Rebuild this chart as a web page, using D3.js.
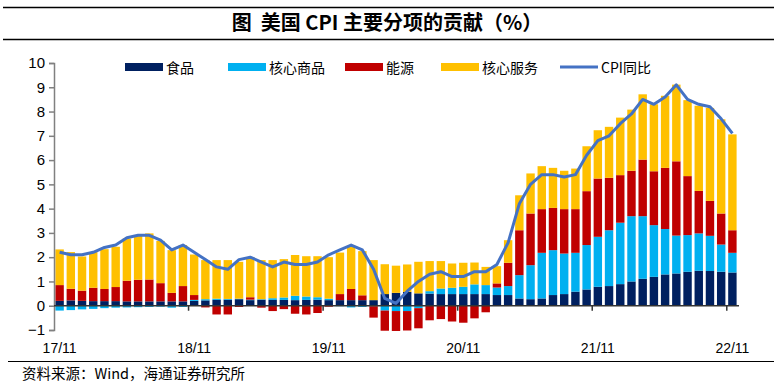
<!DOCTYPE html>
<html><head><meta charset="utf-8">
<script src="https://cdn.jsdelivr.net/npm/d3@7"></script>
<style>body{margin:0;background:#fff} svg{display:block}</style>
</head><body><svg id="c" width="779" height="389"></svg>
<script>
const months = ["17/11","17/12",
"18/01","18/02","18/03","18/04","18/05","18/06","18/07","18/08","18/09","18/10","18/11","18/12",
"19/01","19/02","19/03","19/04","19/05","19/06","19/07","19/08","19/09","19/10","19/11","19/12",
"20/01","20/02","20/03","20/04","20/05","20/06","20/07","20/08","20/09","20/10","20/11","20/12",
"21/01","21/02","21/03","21/04","21/05","21/06","21/07","21/08","21/09","21/10","21/11","21/12",
"22/01","22/02","22/03","22/04","22/05","22/06","22/07","22/08","22/09","22/10","22/11"];
const xLabels = ["17/11","18/11","19/11","20/11","21/11","22/11"];
const yTicks = [-1,0,1,2,3,4,5,6,7,8,9,10];
const seriesNames = ["食品","核心商品","能源","核心服务"];
const lineName = "CPI同比";
const food = [0.2,0.22,0.2,0.19,0.19,0.19,0.18,0.18,0.18,0.18,0.18,0.18,
0.2,0.22,0.24,0.25,0.27,0.23,0.25,0.24,0.24,0.23,0.24,0.25,
0.23,0.23,0.23,0.23,0.23,0.48,0.53,0.57,0.51,0.5,0.48,0.48,
0.48,0.48,0.48,0.44,0.44,0.3,0.27,0.3,0.44,0.48,0.58,0.67,
0.78,0.81,0.89,1.0,1.11,1.19,1.29,1.33,1.4,1.44,1.43,1.4,1.37];
const coreGoods = [-0.2,-0.18,-0.15,-0.13,-0.1,-0.08,-0.07,-0.06,-0.05,-0.04,-0.08,-0.05,
0.04,0.05,0.05,0.03,0.02,0.02,0.02,0.07,0.1,0.18,0.14,0.1,
0.06,-0.02,-0.07,-0.05,-0.02,-0.2,-0.22,-0.22,-0.1,0.1,0.23,0.26,
0.3,0.4,0.37,0.31,0.37,0.96,1.4,1.88,1.85,1.67,1.6,1.83,
2.06,2.3,2.53,2.69,2.58,2.13,1.87,1.56,1.51,1.54,1.45,1.12,0.81];
const energy = [0.65,0.48,0.42,0.55,0.5,0.58,0.85,0.89,0.9,0.75,0.35,0.63,
0.2,-0.07,-0.36,-0.36,-0.05,0.1,-0.08,-0.22,-0.14,-0.33,-0.36,-0.3,
-0.04,0.25,0.46,0.2,-0.47,-0.83,-0.82,-0.8,-0.83,-0.6,-0.55,-0.65,
-0.7,-0.52,-0.27,0.17,0.96,1.85,2.13,1.8,1.74,1.83,1.8,2.22,
2.4,2.16,1.96,1.87,2.33,2.22,2.52,3.06,2.43,1.75,1.44,1.28,0.93];
const coreServices = [1.47,1.51,1.41,1.47,1.64,1.66,1.74,1.83,1.9,1.74,1.76,1.69,
1.67,1.61,1.59,1.6,1.52,1.65,1.61,1.57,1.58,1.68,1.66,1.69,
1.71,1.71,1.78,1.82,1.65,1.23,1.12,1.13,1.3,1.24,1.13,1.0,
0.99,0.9,0.75,0.71,0.93,1.44,1.65,1.77,1.65,1.58,1.67,1.85,
1.99,2.1,2.37,2.52,2.69,2.76,2.97,3.16,3.13,3.51,3.83,3.88,3.95];
const cpi = [2.2,2.1,2.1,2.2,2.4,2.5,2.8,2.9,2.9,2.7,2.3,2.5,
2.2,1.9,1.6,1.5,1.9,2.0,1.8,1.6,1.8,1.7,1.7,1.8,
2.1,2.3,2.5,2.3,1.5,0.3,0.1,0.6,1.0,1.3,1.4,1.2,
1.2,1.4,1.4,1.7,2.6,4.2,5.0,5.4,5.4,5.3,5.4,6.2,
6.8,7.0,7.5,7.9,8.5,8.3,8.6,9.1,8.5,8.3,8.2,7.7,7.1];
const colors = ["#002060","#00B0F0","#C00000","#FFC000"];
const lineColor = "#4472C4";

const svg = d3.select("#c");
const table = months.map((m,i)=>({m, "食品":food[i], "核心商品":coreGoods[i], "能源":energy[i], "核心服务":coreServices[i]}));
const x = d3.scaleBand().domain(months).range([54,738]).paddingInner(0.25).paddingOuter(0.125);
const y = d3.scaleLinear().domain([-1,10]).range([330,63]);
const step = x.step();

// title and rules
svg.append("line").attr("x1",3).attr("x2",774).attr("y1",7.5).attr("y2",7.5).attr("stroke","#000").attr("stroke-width",1.5);
svg.append("line").attr("x1",3).attr("x2",774).attr("y1",39.5).attr("y2",39.5).attr("stroke","#000").attr("stroke-width",1.5);
svg.append("text").attr("x",387).attr("y",30).attr("text-anchor","middle").style("white-space","pre")
  .attr("font-family","'Noto Sans CJK SC', sans-serif").attr("font-weight","bold").attr("font-size",20)
  .text("图\u00A0\u00A0美国 CPI 主要分项的贡献（%）");
svg.append("line").attr("x1",8).attr("x2",774).attr("y1",361.5).attr("y2",361.5).attr("stroke","#000").attr("stroke-width",1.2);
svg.append("text").attr("x",22).attr("y",379).attr("font-family","'Noto Sans CJK SC', sans-serif").attr("font-size",14.5)
  .text("资料来源：Wind，海通证券研究所");

// bars
const stack = d3.stack().keys(seriesNames).offset(d3.stackOffsetDiverging);
const layers = stack(table);
svg.append("g").selectAll("g").data(layers).join("g").attr("fill",(d,i)=>colors[i])
  .selectAll("rect").data(d=>d).join("rect")
  .attr("x",d=>x(d.data.m)).attr("width",x.bandwidth())
  .attr("y",d=>y(Math.max(d[0],d[1]))).attr("height",d=>Math.abs(y(d[0])-y(d[1])));

// y axis
const yAxis = d3.axisLeft(y).tickValues(yTicks).tickSize(5).tickPadding(4).tickFormat(d3.format("d"));
const gy = svg.append("g").attr("transform","translate(54,0)").call(yAxis);
gy.select(".domain").attr("stroke","#808080").attr("stroke-width",1.5);
gy.selectAll(".tick line").attr("stroke","#808080").attr("stroke-width",1.5);
gy.selectAll("text").attr("font-family","'Liberation Sans', Arial, sans-serif").attr("font-size",15).attr("fill","#000");

// x axis
const y0 = y(0);
svg.append("line").attr("x1",54).attr("x2",739).attr("y1",y0).attr("y2",y0).attr("stroke","#333").attr("stroke-width",1.5);
const tickMonths = months.filter((m,i)=>i>0 && i%12===0);
svg.append("g").selectAll("line").data(tickMonths).join("line")
  .attr("x1",d=>x(d)-x.paddingInner()*step/2).attr("x2",d=>x(d)-x.paddingInner()*step/2)
  .attr("y1",y0).attr("y2",y0+5).attr("stroke","#333").attr("stroke-width",1.5);
svg.append("g").selectAll("text").data(xLabels).join("text")
  .attr("x",d=>x(d)+x.bandwidth()/2).attr("y",353).attr("text-anchor","middle")
  .attr("font-family","'Liberation Sans', Arial, sans-serif").attr("font-size",14).text(d=>d);

// line
const line = d3.line().x((d,i)=>x(months[i])+x.bandwidth()/2).y(d=>y(d));
svg.append("path").datum(cpi).attr("d",line).attr("fill","none").attr("stroke",lineColor).attr("stroke-width",3).attr("stroke-linejoin","round");

// legend
const legItems = [{n:seriesNames[0],c:colors[0],x:125},{n:seriesNames[1],c:colors[1],x:228},{n:seriesNames[2],c:colors[2],x:345},{n:seriesNames[3],c:colors[3],x:441}];
const lg = svg.append("g");
legItems.forEach(it=>{
  lg.append("rect").attr("x",it.x).attr("y",63).attr("width",38).attr("height",8).attr("fill",it.c);
  lg.append("text").attr("x",it.x+41).attr("y",72.5).attr("font-family","'Noto Sans CJK SC', sans-serif").attr("font-size",14).text(it.n);
});
lg.append("line").attr("x1",560).attr("x2",598).attr("y1",67).attr("y2",67).attr("stroke",lineColor).attr("stroke-width",3);
lg.append("text").attr("x",601).attr("y",72.5).attr("font-family","'Noto Sans CJK SC', sans-serif").attr("font-size",14).text(lineName);
</script></body></html>
